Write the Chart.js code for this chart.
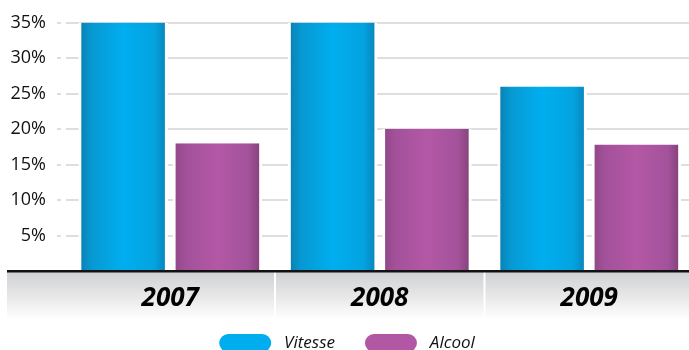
<!DOCTYPE html>
<html><head><meta charset="utf-8">
<script src="https://cdn.jsdelivr.net/npm/chart.js@4/dist/chart.umd.min.js"></script>
<style>html,body{margin:0;padding:0;overflow:hidden;background:#fff}#wrap{width:694px;height:362px;position:relative}</style>
</head><body><div id="wrap"><canvas id="c"></canvas></div>
<script>
const categories = ['2007', '2008', '2009'];
const seriesNames = ['Vitesse', 'Alcool'];
const vitesse = [35, 35, 26];
const alcool = [18, 20, 17.8];
const yTicks = [5, 10, 15, 20, 25, 30, 35];

const gradStops = [
  ['#0a7cae', '#0799d2', '#00aeef', '#03a3e0', '#0a80b4'],
  ['#8c4683', '#a3519a', '#b358a6', '#a4529b', '#7e3f73']
];

const barGradient = {
  id: 'barGradient',
  afterLayout(chart) {
    const xs = chart.scales.x;
    xs.bottom = xs.top + 48;
  },
  beforeDatasetsDraw(chart) {
    const ctx = chart.ctx;
    chart.data.datasets.forEach((ds, di) => {
      const stops = gradStops[di];
      chart.getDatasetMeta(di).data.forEach(el => {
        const p = el.getProps(['x', 'width'], true);
        const g = ctx.createLinearGradient(p.x - p.width / 2, 0, p.x + p.width / 2, 0);
        const pos = [0, 0.15, 0.5, 0.85, 1];
        stops.forEach((c, i) => g.addColorStop(pos[i], c));
        el.options = Object.assign({}, el.options, { backgroundColor: g });
      });
    });
  },
  afterDatasetsDraw(chart) {
    const { ctx, chartArea } = chart;
    ctx.save();
    ctx.fillStyle = '#111';
    ctx.fillRect(7, chartArea.bottom - 1, chart.width - 7, 2.5);
    ctx.restore();
  }
};

const band = {
  id: 'band',
  beforeDraw(chart) {
    const { ctx, chartArea } = chart;
    const xs = chart.scales.x;
    const top = chartArea.bottom + 1;
    const h = 47;
    ctx.save();
    const g = ctx.createLinearGradient(0, top, 0, top + h);
    g.addColorStop(0, '#d0d1d3');
    g.addColorStop(0.6, '#ebebec');
    g.addColorStop(1, '#ffffff');
    ctx.fillStyle = g;
    ctx.fillRect(7, top, chart.width - 7, h);
    ctx.strokeStyle = '#ffffff';
    ctx.lineWidth = 2;
    for (let i = 0; i < categories.length - 1; i++) {
      const x = (xs.getPixelForValue(i) + xs.getPixelForValue(i + 1)) / 2;
      ctx.beginPath();
      ctx.moveTo(x, top);
      ctx.lineTo(x, top + h);
      ctx.stroke();
    }
    ctx.restore();
  }
};

new Chart(document.getElementById('c'), {
  type: 'bar',
  data: {
    labels: categories,
    datasets: [
      { label: seriesNames[0], data: vitesse, backgroundColor: '#00aeef',
        borderColor: '#ffffff', borderWidth: { left: 3, right: 3, top: 0, bottom: 0 }, borderSkipped: false },
      { label: seriesNames[1], data: alcool, backgroundColor: '#b157a3',
        borderColor: '#ffffff', borderWidth: { left: 3, right: 3, top: 0, bottom: 0 }, borderSkipped: false }
    ]
  },
  options: {
    responsive: true,
    maintainAspectRatio: false,
    animation: false,
    layout: { padding: { top: 22.5, left: 0, right: 0, bottom: 0 } },
    categoryPercentage: 0.9,
    barPercentage: 0.95,
    plugins: {
      tooltip: { enabled: false },
      legend: {
        position: 'bottom',
        labels: {
          boxWidth: 52, boxHeight: 18, useBorderRadius: true, borderRadius: 9,
          color: '#111', padding: 30,
          font: { family: 'Open Sans', size: 17, style: 'italic' },
          generateLabels(chart) {
            return Chart.defaults.plugins.legend.labels.generateLabels(chart)
              .map(l => Object.assign(l, { text: '\u00a0' + l.text, strokeStyle: l.fillStyle, lineWidth: 0 }));
          }
        }
      }
    },
    scales: {
      x: {
        afterFit(s) { s.height = 33; },
        grid: { display: false, drawTicks: false },
        border: { display: false },
        ticks: { color: '#000', padding: 12,
          font: { family: 'Open Sans', size: 26, style: 'italic', weight: 'bold' } }
      },
      y: {
        min: 0, max: 35,
        afterBuildTicks(s) { s.ticks = yTicks.map(v => ({ value: v })); },
        afterFit(s) { s.width = 65.5; },
        grid: { color: '#dedede', lineWidth: 2, tickLength: 8.5, drawTicks: true, tickBorderDash: [4, 30] },
        border: { display: false },
        ticks: { color: '#111', padding: 11, callback: v => v + '%',
          font: { family: 'Open Sans', size: 18 } }
      }
    }
  },
  plugins: [band, barGradient]
});
</script></body></html>
